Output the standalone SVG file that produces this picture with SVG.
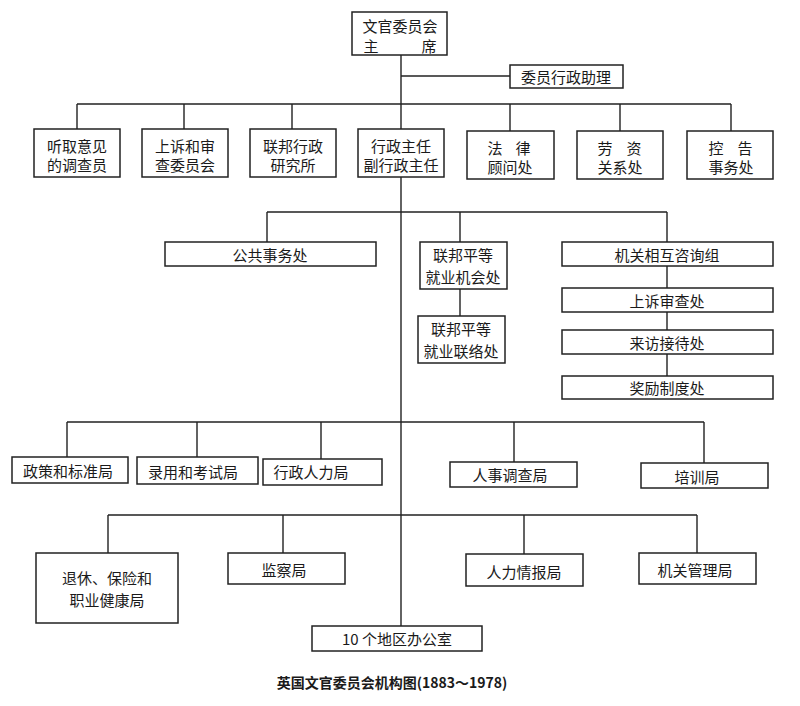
<svg xmlns="http://www.w3.org/2000/svg" width="800" height="706" viewBox="0 0 800 706">
<style>
.b{fill:#fff;stroke:#222;stroke-width:1.5}
.c{fill:none;stroke:#222;stroke-width:1.4}
text{font-family:"Noto Sans CJK SC","Liberation Serif",serif;font-size:15px;fill:#1a1a1a;text-anchor:middle;dominant-baseline:central}
.cap{font-weight:bold;font-size:14px}
</style>
<rect width="800" height="706" fill="#fff"/>
<g id="connectors">
<path class="c" d="M401 55V626"/>
<path class="c" d="M401 76H510"/>
<path class="c" d="M77 104H731M77 104V129M184 104V129M292 104V129M510 104V131M620 104V131M731 104V131"/>
<path class="c" d="M267 212H667M267 212V242M460 212V242M667 212V242M460 289V316M667 266V288M667 312V330M667 354V376"/>
<path class="c" d="M67 422H704M67 422V457M197 422V457M321 422V459M514 422V462M704 422V463"/>
<path class="c" d="M108 515H697M108 515V553M283 515V553M524 515V554M697 515V553"/>
</g>
<g id="n_chair"><rect class="b" x="352" y="12" width="95" height="43"/><text x="400" y="25">文官委员会</text><text x="371" y="45">主</text><text x="429" y="45">席</text></g>
<g id="n_assist"><rect class="b" x="510" y="65" width="113" height="23"/><text x="566" y="76">委员行政助理</text></g>
<g id="n_r2a"><rect class="b" x="34" y="129" width="86" height="48"/><text x="77" y="145">听取意见</text><text x="77" y="164">的调查员</text></g>
<g id="n_r2b"><rect class="b" x="142" y="129" width="86" height="48"/><text x="185" y="145">上诉和审</text><text x="185" y="164">查委员会</text></g>
<g id="n_r2c"><rect class="b" x="250" y="129" width="86" height="48"/><text x="293" y="145">联邦行政</text><text x="293" y="164">研究所</text></g>
<g id="n_r2d"><rect class="b" x="358" y="129" width="86" height="48"/><text x="401" y="145">行政主任</text><text x="401" y="164">副行政主任</text></g>
<g id="n_r2e"><rect class="b" x="467" y="131" width="87" height="48"/><text x="495" y="147">法</text><text x="523" y="147">律</text><text x="510" y="166">顾问处</text></g>
<g id="n_r2f"><rect class="b" x="577" y="131" width="86" height="48"/><text x="605" y="147">劳</text><text x="634" y="147">资</text><text x="620" y="166">关系处</text></g>
<g id="n_r2g"><rect class="b" x="687" y="131" width="86" height="48"/><text x="716" y="147">控</text><text x="745" y="147">告</text><text x="731" y="166">事务处</text></g>
<g id="n_pub"><rect class="b" x="165" y="242" width="211" height="24"/><text x="270" y="254">公共事务处</text></g>
<g id="n_eeo"><rect class="b" x="420" y="242" width="87" height="47"/><text x="463" y="254">联邦平等</text><text x="463" y="276">就业机会处</text></g>
<g id="n_eeol"><rect class="b" x="418" y="316" width="87" height="47"/><text x="461" y="328">联邦平等</text><text x="461" y="350">就业联络处</text></g>
<g id="n_inter"><rect class="b" x="562" y="242" width="211" height="24"/><text x="667" y="254">机关相互咨询组</text></g>
<g id="n_appeal"><rect class="b" x="562" y="288" width="211" height="24"/><text x="667" y="300">上诉审查处</text></g>
<g id="n_visit"><rect class="b" x="562" y="330" width="211" height="24"/><text x="667" y="342">来访接待处</text></g>
<g id="n_award"><rect class="b" x="562" y="376" width="211" height="23"/><text x="667" y="387">奖励制度处</text></g>
<g id="n_policy"><rect class="b" x="12" y="457" width="116" height="26"/><text x="68" y="470">政策和标准局</text></g>
<g id="n_recruit"><rect class="b" x="137" y="457" width="121" height="27"/><text x="193" y="471">录用和考试局</text></g>
<g id="n_admin"><rect class="b" x="263" y="459" width="119" height="26"/><text x="311" y="471">行政人力局</text></g>
<g id="n_persinv"><rect class="b" x="450" y="462" width="127" height="25"/><text x="510" y="474">人事调查局</text></g>
<g id="n_train"><rect class="b" x="641" y="463" width="127" height="25"/><text x="697" y="476">培训局</text></g>
<g id="n_retire"><rect class="b" x="36" y="553" width="142" height="70"/><text x="107" y="577">退休、保险和</text><text x="107" y="599">职业健康局</text></g>
<g id="n_inspect"><rect class="b" x="228" y="553" width="117" height="31"/><text x="284" y="569">监察局</text></g>
<g id="n_intel"><rect class="b" x="466" y="554" width="117" height="32"/><text x="524" y="571">人力情报局</text></g>
<g id="n_agency"><rect class="b" x="639" y="553" width="117" height="31"/><text x="695" y="569">机关管理局</text></g>
<g id="n_region"><rect class="b" x="312" y="626" width="170" height="25"/><text x="397" y="638">10 个地区办公室</text></g>
<text class="cap" x="392" y="682">英国文官委员会机构图(1883～1978)</text>
</svg>
